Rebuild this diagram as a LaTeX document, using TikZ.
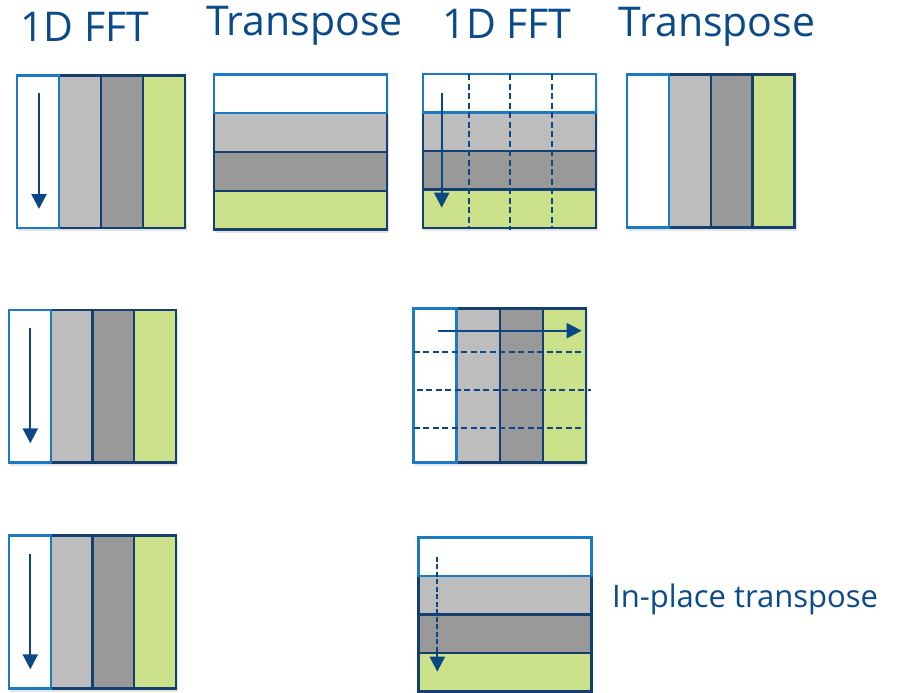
\documentclass[tikz,border=0pt]{standalone}
\usepackage{fontspec}
\setmainfont{Open Sans}
\usetikzlibrary{arrows.meta}
\definecolor{navy}{HTML}{143F6E}
\definecolor{arrowblue}{HTML}{0B4785}
\definecolor{lblue}{HTML}{1C79C4}
\definecolor{txtblue}{HTML}{0B4A8A}
\definecolor{grayA}{HTML}{BDBDBD}
\definecolor{grayB}{HTML}{999999}
\definecolor{greenA}{HTML}{CCE28A}
\tikzset{
  cell/.style={draw=navy, line width=2.3pt, inner sep=0pt, outer sep=0pt, anchor=north west},
  cwhite/.style={cell, fill=white, draw=lblue},
  clight/.style={cell, fill=grayA},
  cdark/.style={cell, fill=grayB},
  cgreen/.style={cell, fill=greenA},
  shadowbox/.style={fill=black, opacity=0.10},
  arr/.style={draw=arrowblue, line width=2.3pt, -{Triangle[width=15pt,length=15pt]}},
  dasharr/.style={arr, dash pattern=on 5pt off 2.5pt},
  gridline/.style={draw=arrowblue, line width=2pt, dash pattern=on 6pt off 3.5pt},
  head/.style={inner sep=0pt, anchor=base west, text=txtblue, font=\fontsize{41}{49}\selectfont},
  side/.style={inner sep=0pt, anchor=base west, text=txtblue, font=\fontsize{31}{37}\selectfont}
}
\begin{document}
\begin{tikzpicture}[x=1pt,y=-1pt]
\useasboundingbox (0,0) rectangle (902,693);

% titles
\node[head] (t1) at (20,41.7) {1D FFT};
\node[head] (t2) at (206,36) {Transpose};
\node[head] (t3) at (442.5,39) {1D FFT};
\node[head] (t4) at (618.5,36.7) {Transpose};
\node[side] (t5) at (612,607.7) {In-place transpose};

% ---- Block 1 (vertical stripes) x 17..185, y 75.5..228
\fill[shadowbox] (18,79) rectangle (187,231);
\node[clight, minimum width=42pt, minimum height=152.5pt] (b1b) at (59,75.5) {};
\node[cdark,  minimum width=42pt, minimum height=152.5pt] (b1c) at (101,75.5) {};
\node[cgreen, minimum width=42pt, minimum height=152.5pt] (b1d) at (143,75.5) {};
\node[cwhite, minimum width=42pt, minimum height=152.5pt] (b1a) at (17,75.5) {};
\coordinate (b1s) at (39,93);
\coordinate (b1e) at (39,209);
\draw[arr] (b1s) -- (b1e);

% ---- Block 2 (horizontal stripes) x 214..387, y 74.5..229.5
\fill[shadowbox] (215,78) rectangle (389,232.5);
\node[clight, minimum width=173pt, minimum height=38.75pt] (b2b) at (214,113.25) {};
\node[cdark,  minimum width=173pt, minimum height=38.75pt] (b2c) at (214,152) {};
\node[cgreen, minimum width=173pt, minimum height=38.75pt] (b2d) at (214,190.75) {};
\node[cwhite, minimum width=173pt, minimum height=38.75pt] (b2a) at (214,74.5) {};

% ---- Block 3 (horizontal stripes + dashed verticals) x 423..596, y 74..228
\fill[shadowbox] (424,77.5) rectangle (598,231);
\node[clight, minimum width=173pt, minimum height=38.5pt] (b3b) at (423,112.5) {};
\node[cdark,  minimum width=173pt, minimum height=38.5pt] (b3c) at (423,151) {};
\node[cgreen, minimum width=173pt, minimum height=38.5pt] (b3d) at (423,189.5) {};
\node[cwhite, minimum width=173pt, minimum height=38.5pt] (b3a) at (423,74) {};
\coordinate (g1t) at (469,74);   \coordinate (g1b) at (469,228);
\coordinate (g2t) at (510,74);   \coordinate (g2b) at (510,230);
\coordinate (g3t) at (552,74);   \coordinate (g3b) at (552,228);
\draw[gridline] (g1t) -- (g1b);
\draw[gridline] (g2t) -- (g2b);
\draw[gridline] (g3t) -- (g3b);
\coordinate (b3s) at (441.7,93.3);
\coordinate (b3e) at (441.7,207.7);
\draw[arr] (b3s) -- (b3e);

% ---- Block 4 (vertical stripes) x 627..794.5, y 74.5..227.5
\fill[shadowbox] (628,78) rectangle (796.5,230.5);
\node[clight, minimum width=41.9pt, minimum height=153pt] (b4b) at (668.9,74.5) {};
\node[cdark,  minimum width=41.9pt, minimum height=153pt] (b4c) at (710.8,74.5) {};
\node[cgreen, minimum width=41.9pt, minimum height=153pt] (b4d) at (752.6,74.5) {};
\node[cwhite, minimum width=41.9pt, minimum height=153pt] (b4a) at (627,74.5) {};

% ---- Block 5 (vertical stripes) x 9..176, y 310..462.5
\fill[shadowbox] (10,313.5) rectangle (178,465.5);
\node[clight, minimum width=41.75pt, minimum height=152.5pt] (b5b) at (50.75,310) {};
\node[cdark,  minimum width=41.75pt, minimum height=152.5pt] (b5c) at (92.5,310) {};
\node[cgreen, minimum width=41.75pt, minimum height=152.5pt] (b5d) at (134.25,310) {};
\node[cwhite, minimum width=41.75pt, minimum height=152.5pt] (b5a) at (9,310) {};
\coordinate (b5s) at (30.3,328);
\coordinate (b5e) at (30.3,443.3);
\draw[arr] (b5s) -- (b5e);

% ---- Block 6 (vertical stripes + dashed horizontals) x 413.5..586, y 308.5..462.5
\fill[shadowbox] (414.5,312) rectangle (588,465.5);
\node[clight, minimum width=43.1pt, minimum height=154pt] (b6b) at (456.6,308.5) {};
\node[cdark,  minimum width=43.1pt, minimum height=154pt] (b6c) at (499.7,308.5) {};
\node[cgreen, minimum width=43.1pt, minimum height=154pt] (b6d) at (542.8,308.5) {};
\node[cwhite, minimum width=43.1pt, minimum height=154pt] (b6a) at (413.5,308.5) {};
\coordinate (h1l) at (413.5,352.3); \coordinate (h1r) at (586,352.3);
\coordinate (h2l) at (416.7,390.3); \coordinate (h2r) at (590.7,390.3);
\coordinate (h3l) at (413.5,428);   \coordinate (h3r) at (586,428);
\draw[gridline] (h1l) -- (h1r);
\draw[gridline] (h2l) -- (h2r);
\draw[gridline] (h3l) -- (h3r);
\coordinate (b6s) at (438.3,330.7);
\coordinate (b6e) at (581.7,330.7);
\draw[arr] (b6s) -- (b6e);

% ---- Block 7 (vertical stripes) x 9..176, y 535.5..688.5
\fill[shadowbox] (10,539) rectangle (178,691.5);
\node[clight, minimum width=41.75pt, minimum height=153pt] (b7b) at (50.75,535.5) {};
\node[cdark,  minimum width=41.75pt, minimum height=153pt] (b7c) at (92.5,535.5) {};
\node[cgreen, minimum width=41.75pt, minimum height=153pt] (b7d) at (134.25,535.5) {};
\node[cwhite, minimum width=41.75pt, minimum height=153pt] (b7a) at (9,535.5) {};
\coordinate (b7s) at (30.3,554);
\coordinate (b7e) at (30.3,669.3);
\draw[arr] (b7s) -- (b7e);

% ---- Block 8 (horizontal stripes) x 418.5..591.5, y 537.5..691.5
\node[clight, minimum width=173pt, minimum height=38.5pt] (b8b) at (418.5,576) {};
\node[cdark,  minimum width=173pt, minimum height=38.5pt] (b8c) at (418.5,614.5) {};
\node[cgreen, minimum width=173pt, minimum height=38.5pt] (b8d) at (418.5,653) {};
\node[cwhite, minimum width=173pt, minimum height=38.5pt] (b8a) at (418.5,537.5) {};
\coordinate (b8s) at (437.3,556.7);
\coordinate (b8e) at (437.3,671.7);
\draw[dasharr] (b8s) -- (b8e);
\end{tikzpicture}
\end{document}
